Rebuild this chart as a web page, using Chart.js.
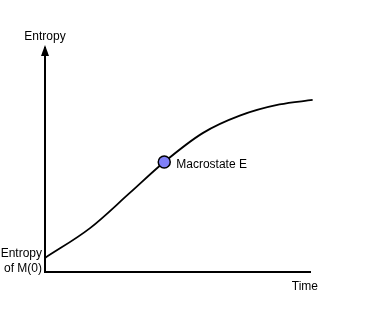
<!DOCTYPE html>
<html>
<head>
<meta charset="utf-8">
<title>Entropy over time</title>
<script src="https://cdn.jsdelivr.net/npm/chart.js@4"></script>
<style>
    html, body { margin: 0; padding: 0; background: #fff; }
    #wrap { width: 375px; height: 313px; position: relative; }
</style>
</head>
<body>
<div id="wrap"><canvas id="entropyChart"></canvas></div>
<script>
// curve (time in arbitrary units 0-10, entropy 0-10)
const timeValues = [0, 1.7, 3.2, 4.5, 5.95, 7.35, 8.85, 10.1];
const entropyValues = [0.63, 1.96, 3.53, 4.91, 6.2, 6.98, 7.48, 7.68];
const macroTime = [4.5];
const macroEntropy = [4.91];
const macroLabels = ['Macrostate E'];
const axisLabels = { y: 'Entropy', x: 'Time', start: ['Entropy', 'of M(0)'] };

const FONT = '12px "Liberation Sans", Arial, sans-serif';

const curvePoints = timeValues.map((t, i) => ({ x: t, y: entropyValues[i] }));
const macroPoints = macroTime.map((t, i) => ({ x: t, y: macroEntropy[i] }));

// arrow on the y axis plus the hand placed labels
const annotate = {
    id: 'annotate',
    afterDraw(chart) {
        const ctx = chart.ctx;
        const xs = chart.scales.x;
        const ys = chart.scales.y;
        const ax = xs.left;
        const top = ys.top;

        ctx.save();
        ctx.fillStyle = '#000';
        ctx.beginPath();
        ctx.moveTo(ax, top - 3);
        ctx.lineTo(ax - 4, top + 8);
        ctx.lineTo(ax + 4, top + 8);
        ctx.closePath();
        ctx.fill();

        ctx.font = FONT;
        ctx.textBaseline = 'middle';
        ctx.textAlign = 'center';
        ctx.fillText(axisLabels.y, ax, top - 11);

        ctx.textAlign = 'right';
        ctx.fillText(axisLabels.x, xs.right + 8, xs.top + 15);

        const y0 = ys.getPixelForValue(entropyValues[0]);
        ctx.fillText(axisLabels.start[0], ax - 3, y0 - 4);
        ctx.fillText(axisLabels.start[1], ax - 3, y0 + 11);

        ctx.textAlign = 'left';
        macroPoints.forEach((p, i) => {
            const px = xs.getPixelForValue(p.x);
            const py = ys.getPixelForValue(p.y);
            ctx.fillText(macroLabels[i], px + 12, py + 3);
        });
        ctx.restore();
    }
};

new Chart(document.getElementById('entropyChart'), {
    type: 'scatter',
    data: {
        datasets: [
            {
                label: 'Macrostate',
                data: macroPoints,
                pointRadius: 6,
                pointBackgroundColor: '#8080f8',
                pointBorderColor: '#000',
                pointBorderWidth: 1.5,
                order: 0
            },
            {
                label: 'Entropy',
                data: curvePoints,
                showLine: true,
                borderColor: '#000',
                borderWidth: 1.8,
                pointRadius: 0,
                cubicInterpolationMode: 'monotone',
                clip: false,
                order: 1
            }
        ]
    },
    options: {
        responsive: true,
        maintainAspectRatio: false,
        animation: false,
        layout: { padding: { left: 45, right: 65, top: 48, bottom: 41 } },
        plugins: {
            legend: { display: false },
            tooltip: { enabled: false }
        },
        scales: {
            x: {
                type: 'linear',
                min: 0,
                max: 10,
                ticks: { display: false },
                grid: { display: false, drawTicks: false },
                border: { display: true, color: '#000', width: 2 }
            },
            y: {
                type: 'linear',
                min: 0,
                max: 10,
                ticks: { display: false },
                grid: { display: false, drawTicks: false },
                border: { display: true, color: '#000', width: 2 }
            }
        }
    },
    plugins: [annotate]
});
</script>
</body>
</html>
